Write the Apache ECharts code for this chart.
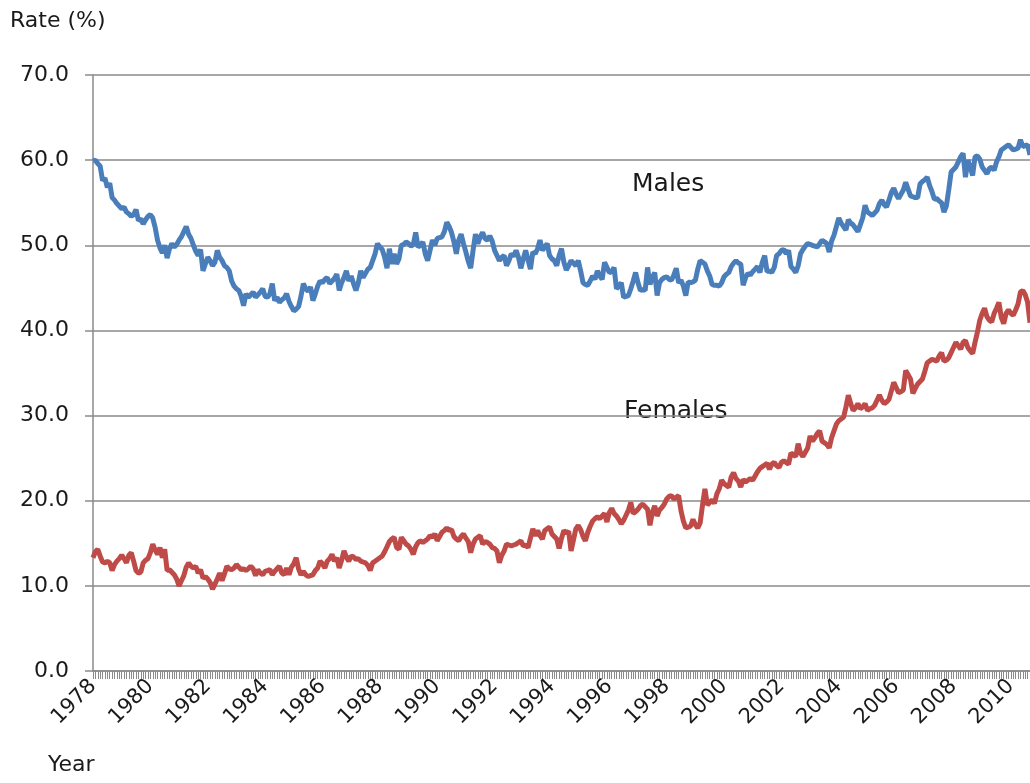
<!DOCTYPE html>
<html>
<head>
<meta charset="utf-8">
<title>Rate by sex</title>
<script src="https://cdn.jsdelivr.net/npm/echarts@6/dist/echarts.min.js"></script>
<style>
  html, body { margin: 0; padding: 0; background: #fff; }
  #chart { width: 1030px; height: 783px; }
</style>
</head>
<body>
<div id="chart"></div>
<script>
// monthly values, Jan 1978 - Sep 2010, one row per year
const males = [
  59.9, 60.0, 59.6, 59.3, 57.6, 57.9, 56.8, 57.3, 55.6, 55.3, 54.9, 54.6,
  54.3, 54.5, 53.9, 53.7, 53.4, 53.6, 54.2, 52.9, 53.1, 52.5, 53.0, 53.4,
  53.6, 53.2, 52.1, 50.6, 49.7, 49.1, 50.0, 48.5, 49.6, 50.2, 49.8, 50.1,
  50.6, 51.0, 51.6, 52.2, 51.3, 50.8, 50.0, 49.3, 48.8, 49.5, 47.0, 47.8,
  48.6, 48.2, 47.6, 48.0, 49.4, 48.6, 48.2, 47.6, 47.4, 47.0, 45.8, 45.2,
  44.9, 44.7, 44.0, 42.9, 44.3, 43.9, 44.2, 44.5, 43.9, 44.2, 44.5, 44.9,
  44.0, 43.9, 44.3, 45.5, 43.5, 43.9, 43.3, 43.6, 43.8, 44.3, 43.4, 42.8,
  42.3, 42.5, 42.8, 44.0, 45.5, 44.9, 44.6, 45.1, 43.5, 44.3, 45.2, 45.8,
  45.6, 46.0, 46.2, 45.5, 45.8, 46.1, 46.6, 44.7, 45.6, 46.2, 47.0, 45.8,
  46.4, 45.5, 44.7, 45.6, 47.0, 46.2, 46.7, 47.2, 47.4, 48.2, 49.0, 50.2,
  49.8, 49.5, 48.6, 47.3, 49.6, 47.8, 49.0, 47.8, 48.4, 50.0, 50.1, 50.4,
  50.2, 49.9, 50.1, 51.5, 49.8, 50.0, 50.4, 49.0, 48.2, 49.4, 50.6, 50.0,
  50.8, 50.9, 51.0, 51.6, 52.7, 52.2, 51.5, 50.4, 49.0, 50.6, 51.3, 50.2,
  49.2, 48.1, 47.3, 49.4, 51.3, 50.2, 51.0, 51.5, 50.8, 50.6, 51.1, 50.5,
  49.4, 48.8, 48.2, 48.6, 48.8, 47.6, 48.2, 49.0, 48.7, 49.4, 48.6, 47.3,
  48.4, 49.4, 48.3, 47.2, 49.2, 49.0, 49.6, 50.6, 49.4, 49.8, 50.2, 48.8,
  48.4, 48.2, 47.6, 48.8, 49.6, 48.0, 47.1, 47.6, 48.2, 47.9, 47.6, 48.2,
  47.0, 45.6, 45.4, 45.3, 45.8, 46.4, 46.0, 47.0, 46.4, 46.0, 48.0, 47.4,
  46.8, 46.9, 47.4, 44.9, 45.2, 45.6, 43.9, 44.0, 44.1, 44.9, 45.8, 46.8,
  45.6, 44.7, 44.8, 44.7, 47.4, 45.4, 46.2, 46.8, 44.1, 45.6, 46.0, 46.2,
  46.3, 46.0, 45.9, 46.5, 47.3, 45.6, 45.9, 45.2, 44.1, 45.7, 45.6, 45.7,
  45.9, 47.2, 48.2, 48.0, 47.8, 47.0, 46.4, 45.4, 45.3, 45.3, 45.2, 45.6,
  46.3, 46.6, 46.8, 47.5, 47.9, 48.2, 47.9, 47.8, 45.3, 46.2, 46.7, 46.5,
  46.9, 47.2, 47.5, 46.8, 48.0, 48.8, 46.9, 47.0, 46.8, 47.4, 48.8, 49.0,
  49.4, 49.5, 49.0, 49.4, 47.5, 47.2, 46.8, 47.6, 49.0, 49.5, 49.9, 50.2,
  50.1, 50.0, 49.9, 49.8, 50.2, 50.6, 50.4, 50.2, 49.2, 50.5, 51.2, 52.2,
  53.2, 52.6, 52.2, 51.8, 53.0, 52.6, 52.4, 52.0, 51.6, 52.4, 53.2, 54.7,
  53.9, 53.7, 53.5, 53.8, 54.1, 54.9, 55.3, 54.8, 54.5, 55.3, 56.2, 56.7,
  56.0, 55.5, 56.0, 56.5, 57.4, 56.6, 55.8, 55.7, 55.6, 55.6, 57.2, 57.5,
  57.7, 58.0, 57.0, 56.3, 55.4, 55.5, 55.2, 55.0, 53.9, 54.6, 56.5, 58.6,
  58.9, 59.2, 59.8, 60.4, 60.8, 58.0, 60.0, 59.2, 58.2, 60.4, 60.5, 60.1,
  59.2, 58.8, 58.4, 59.0, 59.2, 58.8, 59.8, 60.4, 61.2, 61.4, 61.6, 61.8,
  61.5, 61.2, 61.3, 61.4, 62.4, 61.6, 61.7, 61.8, 60.6
]

const females = [
  13.3, 14.0, 14.3, 13.5, 12.8, 12.7, 12.9, 12.7, 11.8, 12.5, 12.9, 13.2,
  13.6, 13.2, 12.7, 13.6, 13.9, 12.9, 11.8, 11.5, 11.6, 12.7, 13.0, 13.2,
  13.9, 14.9, 14.2, 13.7, 14.5, 13.3, 14.3, 11.8, 11.9, 11.6, 11.3, 10.8,
  10.0, 10.6, 11.2, 12.2, 12.7, 12.3, 12.1, 12.3, 11.5, 11.9, 10.9, 11.1,
  10.8, 10.4, 9.6, 10.2, 10.8, 11.5, 10.6, 11.4, 12.3, 12.0, 11.9, 12.1,
  12.5, 12.2, 11.9, 12.0, 11.8, 12.0, 12.3, 12.0, 11.2, 11.9, 11.5, 11.3,
  11.7, 11.8, 11.9, 11.3, 11.7, 12.0, 12.3, 11.5, 11.3, 12.1, 11.3, 12.2,
  12.6, 13.3, 12.0, 11.3, 11.7, 11.3, 11.1, 11.2, 11.3, 11.8, 12.1, 12.9,
  12.6, 12.1, 12.9, 13.2, 13.7, 12.9, 13.3, 12.1, 13.0, 14.1, 13.4, 12.9,
  13.5, 13.4, 13.1, 13.2, 12.9, 12.8, 12.7, 12.4, 11.8, 12.7, 12.9, 13.1,
  13.3, 13.5, 14.0, 14.6, 15.2, 15.5, 15.7, 14.5, 14.3, 15.7, 15.3, 14.9,
  14.7, 14.3, 13.7, 14.6, 15.1, 15.3, 15.1, 15.3, 15.5, 15.9, 15.7, 16.1,
  15.3, 15.8, 16.3, 16.5, 16.8, 16.5, 16.6, 15.8, 15.5, 15.3, 15.8, 16.1,
  15.6, 15.2, 13.9, 14.9, 15.5, 15.7, 15.9, 14.9, 15.2, 15.1, 14.9, 14.5,
  14.4, 14.1, 12.7, 13.6, 14.1, 14.9, 14.8, 14.7, 14.8, 14.9, 15.1, 15.3,
  14.7, 14.8, 14.5, 15.6, 16.7, 15.9, 16.5, 15.9, 15.5, 16.5, 16.7, 16.9,
  16.1, 15.8, 15.5, 14.4, 15.6, 16.5, 16.2, 16.4, 14.1, 15.4, 16.7, 17.1,
  16.6, 15.8, 15.3, 16.3, 17.0, 17.6, 17.9, 18.1, 17.9, 18.2, 18.5, 17.5,
  18.6, 19.1, 18.5, 18.2, 17.8, 17.3, 17.7, 18.3, 18.9, 19.8, 18.5, 18.7,
  19.0, 19.4, 19.6, 19.3, 19.0, 17.1, 18.6, 19.4, 18.2, 18.9, 19.2, 19.6,
  20.2, 20.5, 20.6, 20.2, 20.4, 20.6, 18.8, 17.6, 16.8, 16.9, 17.0, 17.8,
  17.2, 16.8, 17.4, 19.5, 21.4, 19.5, 19.8, 20.1, 19.7, 20.8, 21.4, 22.4,
  22.0, 21.8, 21.6, 22.8, 23.3, 22.6, 22.3, 21.6, 22.5, 22.2, 22.4, 22.6,
  22.4, 22.9, 23.4, 23.8, 24.0, 24.2, 24.4, 23.7, 24.3, 24.5, 24.1, 23.9,
  24.5, 24.7, 24.5, 24.3, 25.6, 25.4, 25.2, 26.7, 25.6, 25.2, 25.7, 26.2,
  27.6, 27.0, 27.4, 27.9, 28.2, 27.0, 26.8, 26.6, 26.2, 27.4, 28.2, 29.0,
  29.4, 29.6, 29.8, 31.0, 32.4, 31.4, 30.6, 30.9, 31.4, 30.8, 31.0, 31.4,
  30.6, 30.8, 30.9, 31.2, 31.8, 32.4, 31.8, 31.4, 31.6, 31.9, 32.9, 33.9,
  33.3, 32.7, 32.8, 33.0, 35.3, 34.8, 34.3, 32.6, 33.2, 33.7, 34.0, 34.3,
  35.2, 36.2, 36.4, 36.6, 36.5, 36.4, 37.0, 37.4, 36.4, 36.5, 36.8, 37.4,
  38.0, 38.6, 38.2, 37.8, 38.6, 38.8, 38.0, 37.6, 37.3, 38.6, 39.8, 41.2,
  42.0, 42.6, 41.6, 41.2, 41.0, 42.0, 42.6, 43.3, 41.5, 40.8, 42.0, 42.4,
  42.0, 41.8, 42.4, 43.1, 44.5, 44.7, 44.2, 43.3, 40.9
]

const firstYear = 1978
const labelYears = [1978, 1980, 1982, 1984, 1986, 1988, 1990, 1992, 1994,
  1996, 1998, 2000, 2002, 2004, 2006, 2008, 2010]
const yTicks = [0, 10, 20, 30, 40, 50, 60, 70]

const months = males.map((_, i) => {
  const y = firstYear + Math.floor(i / 12)
  const m = (i % 12) + 1
  return y + '-' + (m < 10 ? '0' + m : m)
})

const gray = '#8a8a8a'
const textColor = '#1a1a1a'
const font = 'DejaVu Sans'

const chart = echarts.init(document.getElementById('chart'))

chart.setOption({
  animation: false,
  grid: { left: 93, right: 0, top: 75, bottom: 112, containLabel: false },
  xAxis: {
    type: 'category',
    data: months,
    boundaryGap: false,
    axisLine: { lineStyle: { color: gray, width: 1.5 } },
    axisTick: { interval: 0, length: 8, lineStyle: { color: gray, width: 1 } },
    axisLabel: {
      interval: (i, v) => v.endsWith('-01') && labelYears.includes(+v.slice(0, 4)),
      formatter: v => v.slice(0, 4),
      rotate: 45,
      margin: 12,
      color: textColor,
      fontFamily: font,
      fontSize: 21
    },
    splitLine: { show: false }
  },
  yAxis: {
    type: 'value',
    min: yTicks[0],
    max: yTicks[yTicks.length - 1],
    interval: 10,
    axisLine: { show: true, lineStyle: { color: gray, width: 1.5 } },
    axisTick: { show: true, length: 8, lineStyle: { color: gray, width: 1.5 } },
    axisLabel: {
      formatter: v => v.toFixed(1),
      margin: 24,
      color: textColor,
      fontFamily: font,
      fontSize: 22
    },
    splitLine: { lineStyle: { color: gray, width: 1.5 } }
  },
  series: [
    {
      name: 'Males',
      type: 'line',
      data: males,
      showSymbol: false,
      lineStyle: { color: '#4a7ebb', width: 5 },
      itemStyle: { color: '#4a7ebb' }
    },
    {
      name: 'Females',
      type: 'line',
      data: females,
      showSymbol: false,
      lineStyle: { color: '#be4b48', width: 5 },
      itemStyle: { color: '#be4b48' }
    }
  ],
  graphic: [
    { type: 'text', left: 10, top: 10, style: { text: 'Rate (%)', font: '22px "DejaVu Sans"', fill: textColor } },
    { type: 'text', left: 48, top: 754, style: { text: 'Year', font: '22px "DejaVu Sans"', fill: textColor } },
    { type: 'text', left: 632, top: 172, style: { text: 'Males', font: '25px "DejaVu Sans"', fill: textColor } },
    { type: 'text', left: 624, top: 399, style: { text: 'Females', font: '25px "DejaVu Sans"', fill: textColor } }
  ]
})
</script>
</body>
</html>
